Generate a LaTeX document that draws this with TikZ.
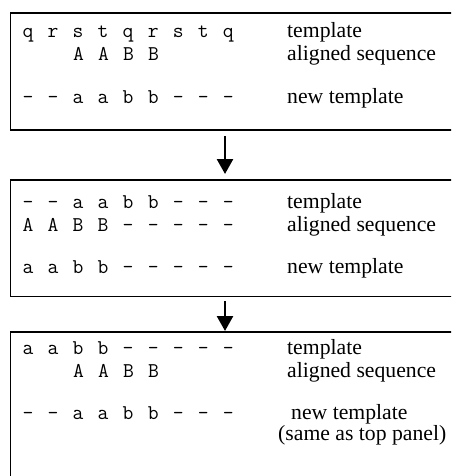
\documentclass[tikz,border=0pt]{standalone}
\usepackage{fontspec}
\setmainfont{Liberation Serif}
\usetikzlibrary{arrows.meta}
\newlength{\seqgap}
\setlength{\seqgap}{14.2pt}
\newcommand\seqrow[1]{\spaceskip=\seqgap\relax #1}
\begin{document}
\begin{tikzpicture}[x=1pt,y=-1pt,
  panel/.style={draw, line width=1.8pt, anchor=north west, inner sep=0pt, minimum width=470pt},
  seq/.style={anchor=base west, inner sep=0pt, font=\ttfamily\fontsize{21}{21}\selectfont},
  lab/.style={anchor=base west, inner sep=0pt, font=\fontsize{21.7}{21.7}\selectfont},
  flow/.style={line width=2.6pt, -{Triangle[width=16pt,length=15pt]}}]
\clip (0,0) rectangle (451,476);
% panels
\node[panel, minimum height=117pt] (p1) at (9.5,12) {};
\node[panel, minimum height=116.5pt] (p2) at (9.5,179) {};
\node[panel, minimum height=160pt] (p3) at (9.5,331) {};
% panel 1
\node[seq] (s11) at (22.5,38) {\seqrow{q r s t q r s t q}};
\node[seq] (s12) at (22.5,61) {\seqrow{\hspace*{50.5pt}A A B B}};
\node[seq] (s13) at (22.5,104) {\seqrow{- - a a b b - - -}};
\node[lab] (l11) at (287,38) {template};
\node[lab] (l12) at (287,61) {aligned sequence};
\node[lab] (l13) at (287,104) {new template};
% panel 2
\node[seq] (s21) at (22.5,208) {\seqrow{- - a a b b - - -}};
\node[seq] (s22) at (22.5,231) {\seqrow{A A B B - - - - -}};
\node[seq] (s23) at (22.5,273) {\seqrow{a a b b - - - - -}};
\node[lab] (l21) at (287,208) {template};
\node[lab] (l22) at (287,231) {aligned sequence};
\node[lab] (l23) at (287,273) {new template};
% panel 3
\node[seq] (s31) at (22.5,354) {\seqrow{a a b b - - - - -}};
\node[seq] (s32) at (22.5,377) {\seqrow{\hspace*{50.5pt}A A B B}};
\node[seq] (s33) at (22.5,419) {\seqrow{- - a a b b - - -}};
\node[lab] (l31) at (287,354) {template};
\node[lab] (l32) at (287,377) {aligned sequence};
\node[lab] (l33) at (291,419) {new template};
\node[lab] (l34) at (278,440) {(same as top panel)};
% arrows
\coordinate (ax) at (225,0);
\draw[flow] ([yshift=-5pt]p1.south -| ax) -- ([yshift=5pt]p2.north -| ax);
\draw[flow] ([yshift=-4pt]p2.south -| ax) -- (p3.north -| ax);
\end{tikzpicture}
\end{document}
